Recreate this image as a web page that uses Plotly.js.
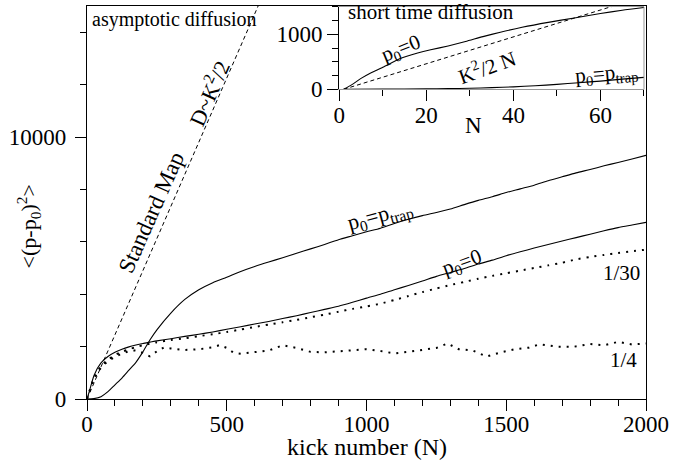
<!DOCTYPE html>
<html>
<head>
<meta charset="utf-8">
<script src="https://cdn.plot.ly/plotly-3.0.1.min.js"></script>
<style>html,body{margin:0;padding:0;background:#fff;}#chart{width:692px;height:461px;}</style>
</head>
<body>
<div id="chart"></div>
<script>
// ---- main panel data ----
const trapN = [0,25,50,75,100,125,150,175,200,225,250,300,350,400,450,500,550,600,650,700,750,800,850,900,950,1000,1050,1100,1150,1200,1250,1300,1350,1400,1450,1500,1550,1600,1650,1700,1750,1800,1850,1900,1950,2000];
const trapV = [0,15,90,280,540,800,1100,1400,1800,2250,2640,3280,3800,4170,4440,4650,4870,5060,5230,5390,5560,5730,5900,6080,6230,6380,6520,6700,6860,7000,7120,7250,7420,7580,7720,7880,8020,8160,8330,8480,8630,8760,8900,9030,9160,9300];

const zeroN = [0,10,25,50,75,100,125,150,175,200,225,250,300,350,400,450,500,550,600,650,700,750,800,850,900,950,1000,1050,1100,1150,1200,1250,1300,1350,1400,1450,1500,1550,1600,1650,1700,1750,1800,1850,1900,1950,2000];
const zeroV = [0,350,900,1380,1620,1780,1900,1990,2060,2120,2170,2220,2300,2390,2470,2560,2660,2760,2860,2960,3070,3180,3300,3420,3540,3690,3850,4000,4170,4330,4500,4680,4830,4980,5150,5300,5470,5620,5760,5900,6030,6160,6290,6420,6540,6640,6740];

const k30N = [0,25,50,75,100,125,150,175,200,225,250,300,350,400,450,500,550,600,650,700,750,800,850,900,950,1000,1050,1100,1150,1200,1250,1300,1350,1400,1450,1500,1550,1600,1650,1700,1750,1800,1850,1900,1950,2000];
const k30V = [0,800,1250,1500,1680,1800,1900,1980,2050,2110,2170,2250,2320,2400,2470,2560,2650,2750,2840,2930,3020,3120,3220,3330,3440,3530,3640,3780,3930,4080,4220,4350,4470,4590,4700,4800,4900,5000,5100,5200,5330,5420,5500,5570,5640,5700];

const k4N = [0,25,50,75,100,125,150,175,200,225,250,275,300,350,400,450,475,500,525,550,600,650,700,750,800,850,900,950,1000,1050,1100,1150,1200,1250,1290,1330,1380,1430,1480,1530,1580,1620,1680,1740,1800,1850,1900,1950,2000];
const k4V = [0,780,1200,1450,1600,1740,1820,1860,1760,1630,1820,1970,1930,1870,1900,1970,2060,1950,1760,1730,1790,1850,2050,1950,1800,1780,1820,1860,1900,1830,1740,1800,1870,1950,2120,1900,1850,1620,1780,1900,1960,2090,2000,1990,2100,2050,2180,2080,2120];

const stdMapN = [0,700];
const stdMapV = [0,17150];

// ---- inset data ----
const inZeroN = [1,3,5,7,10,14,18,21,25,29,33,37,42,48,54,60,65,70];
const inZeroV = [0,90,200,290,400,560,660,720,790,870,960,1040,1130,1220,1300,1380,1440,1490];
const inTrapN = [1,10,20,25,30,35,40,45,50,55,60,65,70];
const inTrapV = [0,3,8,12,20,30,45,65,90,120,150,185,218];
const inDashN = [1,70];
const inDashV = [0,1690];

const mainXTicks = [0,500,1000,1500,2000];
const mainYTicks = [0,10000];
const insetXTicks = [0,20,40,60];
const insetYTicks = [0,1000];

const FONT = '"Liberation Serif", "Times New Roman", Times, serif';
const blk = '#000';

const traces = [
  {x: stdMapN, y: stdMapV, mode:'lines', line:{color:blk, width:1, dash:'4px,3px'}, xaxis:'x', yaxis:'y'},
  {x: trapN, y: trapV, mode:'lines', line:{color:blk, width:1.1, shape:'spline', smoothing:0.7}, xaxis:'x', yaxis:'y'},
  {x: zeroN, y: zeroV, mode:'lines', line:{color:blk, width:1.1, shape:'spline', smoothing:0.6}, xaxis:'x', yaxis:'y'},
  {x: k30N, y: k30V, mode:'lines', line:{color:blk, width:2, dash:'2px,6px', shape:'spline', smoothing:0.6}, xaxis:'x', yaxis:'y'},
  {x: k4N, y: k4V, mode:'lines', line:{color:blk, width:2, dash:'2px,6px'}, xaxis:'x', yaxis:'y'},
  {x: inDashN, y: inDashV, mode:'lines', line:{color:blk, width:1, dash:'4px,3px'}, xaxis:'x2', yaxis:'y2'},
  {x: inZeroN, y: inZeroV, mode:'lines', line:{color:blk, width:1.1, shape:'spline', smoothing:0.6}, xaxis:'x2', yaxis:'y2'},
  {x: inTrapN, y: inTrapV, mode:'lines', line:{color:blk, width:1.1, shape:'spline', smoothing:0.6}, xaxis:'x2', yaxis:'y2'}
];

function ann(text, x, y, opts) {
  return Object.assign({text, x, y, xref:'x', yref:'y', showarrow:false,
    font:{family:FONT, size:21, color:blk}, xanchor:'center', yanchor:'middle'}, opts||{});
}

const annotations = [
  ann('asymptotic diffusion', 10, 14470, {xanchor:'left', font:{family:FONT, size:20, color:blk}}),
  ann('D~K<sup>2</sup>/2', 433, 11680, {textangle:-66, font:{family:FONT, size:22, color:blk}}),
  ann('Standard Map', 229, 7137, {textangle:-66, font:{family:FONT, size:23, color:blk}}),
  ann('p<sub>0</sub>=p<sub>trap</sub>', 1048, 6980, {textangle:-15, font:{family:FONT, size:22, color:blk}}),
  ann('p<sub>0</sub>=0', 1342, 5191, {textangle:-20}),
  ann('1/30', 1914, 4809),
  ann('1/4', 1918, 1489),
  ann('kick number (N)', 0.5, -0.122, {xref:'paper', yref:'paper', font:{family:FONT, size:24, color:blk}}),
  ann('&lt;(p-p<sub>0</sub>)<sup>2</sup>&gt;', 0, 0, {xref:'paper', yref:'paper', x:-0.105, y:0.44, textangle:-90, font:{family:FONT, size:22, color:blk}}),
  ann('short time diffusion', 1.6, 1405, {xref:'x2', yref:'y2', xanchor:'left', font:{family:FONT, size:21, color:blk}}),
  ann('p<sub>0</sub>=0', 14.2, 734, {xref:'x2', yref:'y2', textangle:-22}),
  ann('K<sup>2</sup>/2 N', 33.9, 424, {xref:'x2', yref:'y2', textangle:-20}),
  ann('p<sub>0</sub>=p<sub>trap</sub>', 61.3, 279, {xref:'x2', yref:'y2', textangle:-5}),
  ann('N', 30.9, 0.6947, {xref:'x2', yref:'paper', font:{family:FONT, size:23, color:blk}})
];

const layout = {
  width: 692, height: 461,
  margin: {l:87, r:46, t:6, b:62},
  paper_bgcolor:'#fff', plot_bgcolor:'rgba(0,0,0,0)',
  showlegend: false,
  font: {family: FONT, size: 23, color: blk},
  xaxis: {
    domain:[0,1], range:[0,2000], showgrid:false, zeroline:false,
    showline:true, linecolor:blk, linewidth:1.2, mirror:true,
    tickmode:'array', tickvals: mainXTicks, ticktext: mainXTicks.map(String),
    ticks:'outside', ticklen:11, tickwidth:1, tickcolor:blk, ticklabelstandoff:-7,
    minor:{dtick:100, tick0:0, ticks:'outside', ticklen:6, tickwidth:1, tickcolor:blk},
    tickfont:{family:FONT, size:23, color:blk}
  },
  yaxis: {
    domain:[0,1], range:[0,15000], showgrid:false, zeroline:false,
    showline:true, linecolor:blk, linewidth:1.2, mirror:true,
    tickmode:'array', tickvals: mainYTicks, ticktext: mainYTicks.map(String),
    ticks:'outside', ticklen:11, tickwidth:1, tickcolor:blk, ticklabelstandoff:4,
    minor:{dtick:2000, tick0:0, ticks:'outside', ticklen:6, tickwidth:1, tickcolor:blk},
    tickfont:{family:FONT, size:23, color:blk}
  },
  xaxis2: {
    domain:[0.4513, 0.9964], range:[0,70], anchor:'y2', showgrid:false, zeroline:false,
    showline:true, linecolor:'#999', linewidth:1, mirror:true,
    tickmode:'array', tickvals: insetXTicks, ticktext: insetXTicks.map(String),
    ticks:'outside', ticklen:11, tickwidth:1, tickcolor:blk, ticklabelstandoff:-6,
    minor:{dtick:10, tick0:0, ticks:'outside', ticklen:6, tickwidth:1, tickcolor:blk},
    tickfont:{family:FONT, size:23, color:blk}
  },
  yaxis2: {
    domain:[0.788, 0.9975], range:[0,1500], anchor:'x2', showgrid:false, zeroline:false,
    showline:true, linecolor:blk, linewidth:1.2, mirror:false,
    tickmode:'array', tickvals: insetYTicks, ticktext: insetYTicks.map(String),
    ticks:'outside', ticklen:11, tickwidth:1, tickcolor:blk,
    minor:{dtick:250, tick0:0, ticks:'outside', ticklen:6, tickwidth:1, tickcolor:blk},
    tickfont:{family:FONT, size:23, color:blk}
  },
  shapes: [
    {type:'line', xref:'x2 domain', yref:'y2 domain', x0:1, x1:1, y0:0, y1:1, line:{color:'#999', width:1}}
  ],
  annotations: annotations
};

Plotly.newPlot('chart', traces, layout, {staticPlot:true, displayModeBar:false});
</script>
</body>
</html>
